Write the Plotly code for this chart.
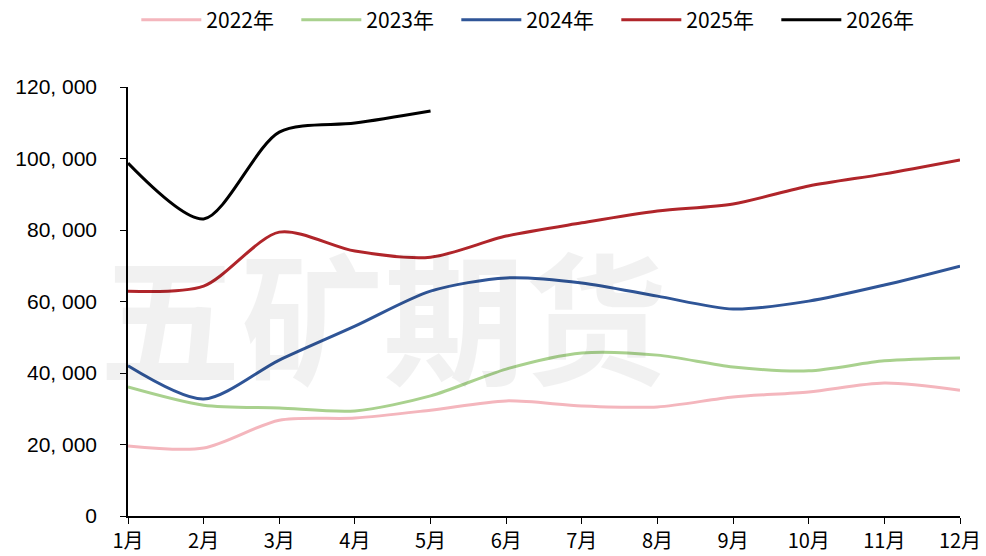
import plotly.graph_objects as go

months = ["1月", "2月", "3月", "4月", "5月", "6月", "7月", "8月", "9月", "10月", "11月", "12月"]
y2022 = [19600, 19000, 26800, 27400, 29600, 32200, 30800, 30500, 33300, 34700, 37200, 35200]
y2023 = [36100, 31000, 30200, 29400, 33600, 41100, 45600, 45000, 41700, 40600, 43400, 44200]
y2024 = [42000, 32700, 43600, 53100, 62900, 66600, 65200, 61500, 57900, 60100, 64600, 69900]
y2025 = [62900, 64300, 79400, 74100, 72400, 78300, 82000, 85300, 87300, 92300, 95700, 99600]
y2026 = [98700, 83100, 107400, 109900, 113300]
tick_vals = [0, 20000, 40000, 60000, 80000, 100000, 120000]
tick_text = ["0", "20, 000", "40, 000", "60, 000", "80, 000", "100, 000", "120, 000"]

series = [
    ("2022年", y2022, "#f4b6bd"),
    ("2023年", y2023, "#a9d18e"),
    ("2024年", y2024, "#2f5597"),
    ("2025年", y2025, "#b0252a"),
    ("2026年", y2026, "#000000"),
]

FONT = "Noto Sans CJK SC"
NUMFONT = "Liberation Sans"
fig = go.Figure()
for name, vals, color in series:
    fig.add_trace(go.Scatter(
        x=list(range(len(vals))), y=vals, name=name, mode="lines",
        line=dict(color=color, width=3, shape="spline", smoothing=0.8),
    ))

fig.add_annotation(
    text="<b>五矿期货</b>", xref="paper", yref="paper", x=0.307, y=0.475,
    xanchor="center", yanchor="middle", borderpad=0,
    showarrow=False, font=dict(family=FONT, size=142, color="rgba(0,0,0,0.055)"),
)

fig.update_layout(
    width=986, height=556,
    margin=dict(l=128, r=26, t=87, b=40, autoexpand=False),
    paper_bgcolor="white", plot_bgcolor="white",
    font=dict(family=FONT, size=18, color="#000"),
    showlegend=True,
    legend=dict(orientation="h", x=0.01, xanchor="left", y=1.156, yanchor="middle",
                font=dict(family=FONT, size=21), itemwidth=60,
                entrywidth=85, entrywidthmode="pixels", tracegroupgap=0),
    xaxis=dict(
        range=[0, 11], tickmode="array", tickvals=list(range(12)), ticktext=months,
        showgrid=False, zeroline=False, showline=True, linecolor="#000", linewidth=1.5,
        ticks="outside", ticklen=6, tickcolor="#000", automargin=False,
        tickfont=dict(family=FONT, size=20),
    ),
    yaxis=dict(
        range=[0, 120000], tickmode="array", tickvals=tick_vals, ticktext=tick_text,
        showgrid=False, zeroline=False, showline=True, linecolor="#000", linewidth=1.5,
        ticks="outside", ticklen=6, tickcolor="#000", automargin=False,
        ticklabelstandoff=19, tickfont=dict(family=NUMFONT, size=21),
    ),
)
fig.write_html("out.html", config={"displayModeBar": False},
               post_script="document.body.style.margin='0';")
